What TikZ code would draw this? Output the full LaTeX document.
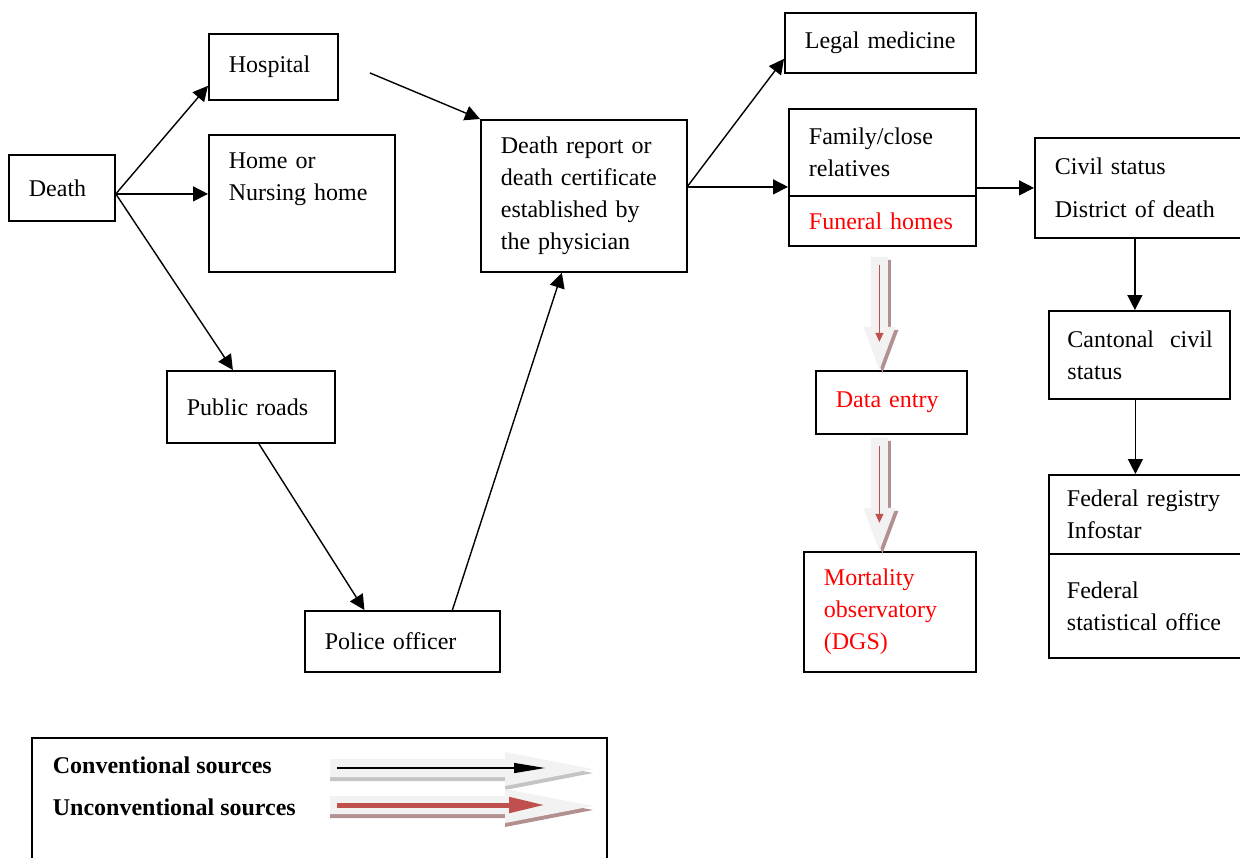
\documentclass[tikz,border=0pt]{standalone}
\usepackage{fontspec}
\setmainfont{Liberation Serif}
\usetikzlibrary{arrows.meta,positioning}

\definecolor{fatgray}{HTML}{F2F2F2}
\definecolor{shadowred}{HTML}{B39090}
\definecolor{shadowgray}{HTML}{C4C4C4}
\definecolor{linered}{HTML}{C0504D}

\begin{document}
\begin{tikzpicture}[
    x=0.5pt, y=-0.5pt,
    line width=0.9pt,
    every node/.style={
        font=\fontsize{12}{16}\selectfont,
        align=left,
        inner xsep=10pt,
        inner ysep=0pt,
        anchor=north west
    },
    box/.style={draw, rectangle},
    conn/.style={line width=0.7pt, -{Triangle[length=7.5pt,width=7.5pt]}},
    fatdown/.pic={
        \fill[shadowred, shift={(3,3)}] (-8.5,0) -- (8.5,0) -- (8.5,70) -- (16,70)
            -- (0,113) -- (-16,70) -- (-8.5,70) -- cycle;
        \fill[fatgray] (-8.5,0) -- (8.5,0) -- (8.5,70) -- (16,70)
            -- (0,113) -- (-16,70) -- (-8.5,70) -- cycle;
        \draw[linered, line width=0.6pt, -{Triangle[length=4.5pt,width=4pt]}] (0,8) -- (0,85);
    },
    pics/fatright/.style 2 args={code={
        \fill[#1, shift={(0,4)}] (0,-9) -- (175,-9) -- (175,-16) -- (263,1)
            -- (175,18) -- (175,9) -- (0,9) -- cycle;
        \fill[fatgray] (0,-9) -- (175,-9) -- (175,-16) -- (263,1)
            -- (175,18) -- (175,9) -- (0,9) -- cycle;
        \draw[#2] (7,0) -- (215,0);
    }}
]
\useasboundingbox (0,0) rectangle (1240,857);

% left part
\node[box, text width=33pt, minimum height=33pt] (death) at (8,154) {Death};
\node[box, text width=44.5pt, minimum height=33pt] (hospital) at (208,33) {Hospital};
\node[box, text width=73pt, text height=17pt, text depth=51.5pt] (home) at (208,134) {Home or\\Nursing home};
\node[box, text width=64pt, minimum height=36pt] (roads) at (166,370) {Public roads};
\node[box, text width=77.5pt, minimum height=30.5pt] (police) at (304,610) {Police officer};
\node[box, text width=83pt, minimum height=76pt] (report) at (480,119)
    {Death report or\\death certificate\\established by\\the physician};

% middle part
\node[box, text width=75.5pt, minimum height=30pt] (legal) at (784,12) {Legal medicine};
\node[box, text width=73.5pt, minimum height=43.5pt] (family) at (788,108) {Family/close\\relatives};
\node[box, text width=73.5pt, minimum height=25pt, text=red, anchor=north] (funeral) at ([yshift=0.9pt]family.south) {Funeral homes};
\node[box, text width=55.5pt, minimum height=31.5pt, text=red] (entry) at (815,370) {Data entry};
\node[box, text width=66pt, minimum height=60pt, text=red] (observatory) at (803,551)
    {Mortality\\observatory\\(DGS)};

% right part
\node[box, text width=83pt, minimum height=50pt] (civil) at (1034,137) {Civil status\\[5.5pt]District of death};
\node[box, text width=72pt, inner xsep=9.25pt, minimum height=44pt] (cantonal) at (1048,310) {\mbox{Cantonal\ \ civil}\\status};
\node[box, text width=78pt, inner xsep=9pt, minimum height=39.5pt] (registry) at (1048,474) {Federal registry\\Infostar};
\node[box, text width=78pt, inner xsep=9pt, minimum height=52pt, anchor=north] (fso) at ([yshift=0.9pt]registry.south)
    {Federal\\statistical office};

% connectors
\draw[conn] ([yshift=-3pt]death.east) -- ([yshift=7.5pt]hospital.south west);
\draw[conn] ([yshift=-3pt]death.east) -- ([yshift=-3pt]death.east -| home.west);
\draw[conn] ([yshift=-3pt]death.east) -- ([xshift=-9pt]roads.north);
\draw[conn] ([shift={(15.5pt,-3pt)}]hospital.east) -- (report.north west);
\draw[conn] ([xshift=4pt]roads.south) -- ([xshift=-19pt]police.north);
\draw[conn] ([xshift=25pt]police.north) -- ([xshift=-11pt]report.south);
\draw[conn] ([yshift=5pt]report.east) -- ([yshift=7.5pt]legal.south west);
\draw[conn] ([yshift=4.5pt]report.east) -- ([yshift=4.5pt]report.east -| family.west);
\draw[conn] (civil.west -| family.east) -- (civil.west);
\draw[conn] ([xshift=-1.5pt]civil.south) -- ([xshift=-1.5pt]civil.south |- cantonal.north);
\draw[conn] ([xshift=-2pt]cantonal.south) -- ([xshift=-2pt]cantonal.south |- registry.north);

% unconventional flow
\coordinate (flow2) at (funeral.south |- entry.south);
\pic at ([shift={(-1.5pt,-5pt)}]funeral.south) {fatdown};
\pic at ([shift={(-1.5pt,-1.5pt)}]flow2) {fatdown};

% legend
\node[box, inner sep=0pt, minimum width=287.5pt, minimum height=61.5pt] (legend) at (31,737) {};
\node[anchor=base west, font=\fontsize{12}{16}\selectfont\bfseries] (conv) at (32,773) {Conventional sources};
\node[anchor=base west, font=\fontsize{12}{16}\selectfont\bfseries] (unconv) at (32,815) {Unconventional sources};
\pic at (330,768) {fatright={shadowgray}{black, line width=0.6pt, -{Triangle[length=15.5pt,width=5pt]}}};
\pic at (330,805) {fatright={shadowred}{linered, line width=2.5pt, -{Triangle[length=18pt,width=7.5pt]}}};
\end{tikzpicture}
\end{document}
